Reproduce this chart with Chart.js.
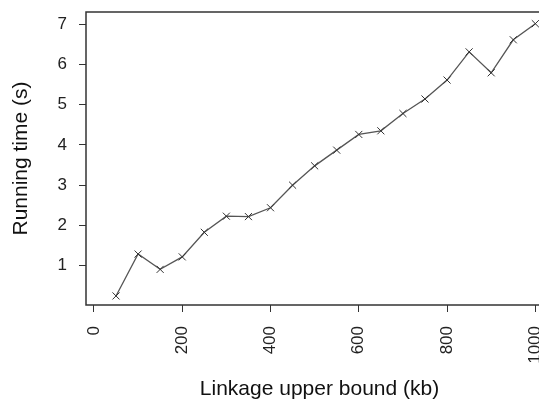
<!DOCTYPE html>
<html lang="en">
<head>
    <meta charset="UTF-8">
    <title>Running time vs linkage upper bound</title>
    <script src="https://cdn.jsdelivr.net/npm/chart.js"></script>
    <style>
        body { margin: 0; background: #fff; }
        #wrap { width: 539px; height: 400px; overflow: hidden; }
    </style>
</head>
<body>
    <div id="wrap">
        <canvas id="runChart" width="567" height="400"></canvas>
    </div>
    <script>
        // values
        const bounds = [50, 100, 150, 200, 250, 300, 350, 400, 450, 500,
                        550, 600, 650, 700, 750, 800, 850, 900, 950, 1000];
        const runTimes = [0.25, 1.29, 0.91, 1.22, 1.83, 2.23, 2.22, 2.44, 3.0, 3.48,
                          3.87, 4.26, 4.35, 4.78, 5.14, 5.61, 6.31, 5.79, 6.61, 7.01];

        const font = "'Liberation Sans', Arial, sans-serif";

        // R-style box around the plot region
        const boxPlugin = {
            id: 'box',
            afterDatasetsDraw(chart) {
                const a = chart.chartArea;
                const ctx = chart.ctx;
                ctx.save();
                ctx.strokeStyle = '#333';
                ctx.lineWidth = 1.5;
                ctx.strokeRect(a.left, a.top, a.right - a.left, a.bottom - a.top);
                ctx.restore();
            }
        };

        // fixed axis sizes so the plot box lands where it does in the figure
        const fixX = s => { s.height = 95; s.paddingLeft = 0; s.paddingRight = 0; };
        const fixY = s => { s.width = 86; s.paddingTop = 0; s.paddingBottom = 0; };

        const ctx = document.getElementById('runChart').getContext('2d');
        new Chart(ctx, {
            type: 'line',
            data: {
                datasets: [{
                    data: bounds.map((b, i) => ({ x: b, y: runTimes[i] })),
                    borderColor: '#555',
                    borderWidth: 1.3,
                    pointStyle: 'crossRot',
                    pointRadius: 5,
                    pointBorderColor: '#333',
                    pointBorderWidth: 1,
                    tension: 0,
                    fill: false
                }]
            },
            options: {
                responsive: false,
                animation: false,
                layout: { padding: { top: 12, right: 14, left: 0, bottom: 0 } },
                plugins: {
                    legend: { display: false },
                    tooltip: { enabled: false }
                },
                scales: {
                    x: {
                        type: 'linear',
                        min: -18,
                        max: 1040,
                        afterFit: fixX,
                        border: { display: false },
                        grid: { drawOnChartArea: false, tickLength: 7, color: '#333' },
                        ticks: {
                            stepSize: 200,
                            includeBounds: false,
                            minRotation: 90,
                            maxRotation: 90,
                            padding: 14,
                            color: '#222',
                            font: { family: font, size: 17 },
                            callback: v => String(v)
                        },
                        title: {
                            display: true,
                            text: 'Linkage upper bound (kb)',
                            color: '#111',
                            padding: { top: 0, bottom: 0 },
                            font: { family: font, size: 21, lineHeight: 1 }
                        }
                    },
                    y: {
                        min: 0.025,
                        max: 7.3,
                        afterFit: fixY,
                        border: { display: false },
                        grid: { drawOnChartArea: false, tickLength: 7, color: '#333' },
                        ticks: {
                            stepSize: 1,
                            includeBounds: false,
                            padding: 12,
                            color: '#222',
                            font: { family: font, size: 17 }
                        },
                        title: {
                            display: true,
                            text: 'Running time (s)',
                            color: '#111',
                            padding: { top: 11, bottom: 0 },
                            font: { family: font, size: 21, lineHeight: 1 }
                        }
                    }
                }
            },
            plugins: [boxPlugin]
        });
    </script>
</body>
</html>
